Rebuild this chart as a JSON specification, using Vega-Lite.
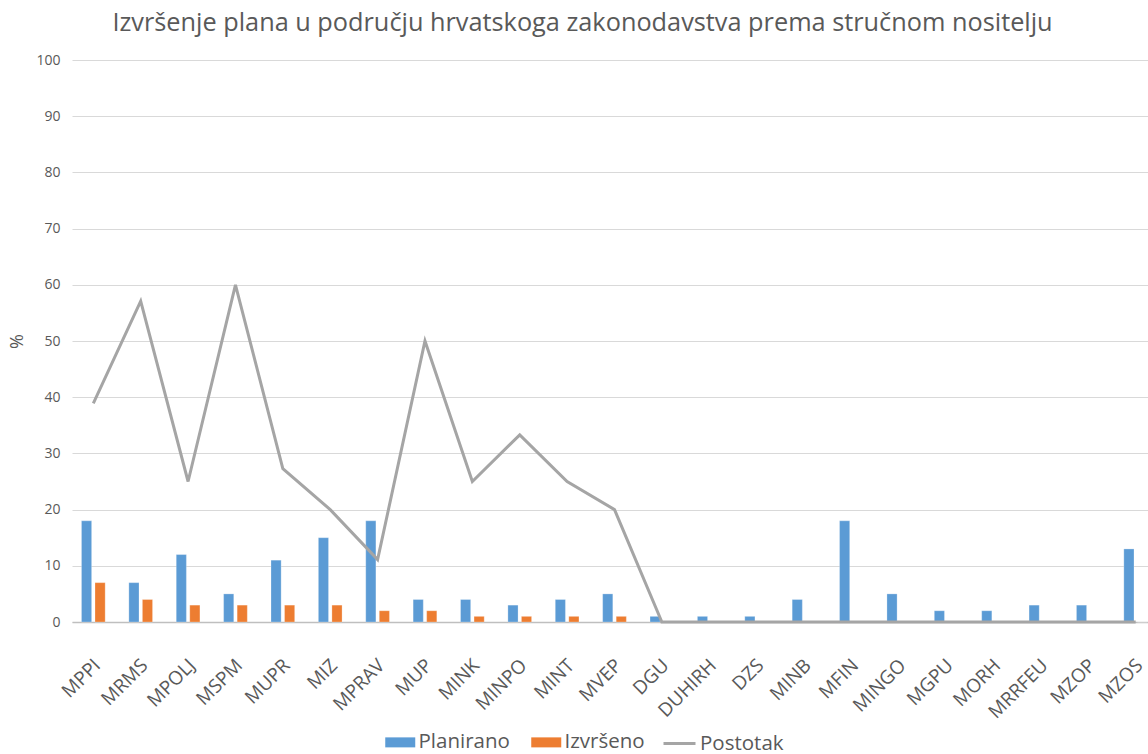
{
  "$schema": "https://vega.github.io/schema/vega-lite/v6.json",
  "autosize": {"type": "none"},
  "width": 1085,
  "height": 562,
  "padding": {"left": 72, "top": 60, "right": -9, "bottom": 132},
  "background": "white",
  "title": {
    "text": "Izvršenje plana u području hrvatskoga zakonodavstva prema stručnom nositelju",
    "font": "Open Sans",
    "fontSize": 25.3,
    "fontWeight": "normal",
    "color": "#595959",
    "anchor": "middle",
    "dx": -32,
    "offset": 17
  },
  "config": {
    "view": {"stroke": null},
    "font": "Open Sans",
    "axis": {"labelFont": "Open Sans", "titleFont": "Open Sans", "labelColor": "#595959", "titleColor": "#595959"}
  },
  "datasets": {
    "vals": [
      {"kat": "MPPI", "serija": "Planirano", "vrijednost": 18},
      {"kat": "MPPI", "serija": "Izvršeno", "vrijednost": 7},
      {"kat": "MPPI", "serija": "Postotak", "vrijednost": 38.9},
      {"kat": "MRMS", "serija": "Planirano", "vrijednost": 7},
      {"kat": "MRMS", "serija": "Izvršeno", "vrijednost": 4},
      {"kat": "MRMS", "serija": "Postotak", "vrijednost": 57.1},
      {"kat": "MPOLJ", "serija": "Planirano", "vrijednost": 12},
      {"kat": "MPOLJ", "serija": "Izvršeno", "vrijednost": 3},
      {"kat": "MPOLJ", "serija": "Postotak", "vrijednost": 25},
      {"kat": "MSPM", "serija": "Planirano", "vrijednost": 5},
      {"kat": "MSPM", "serija": "Izvršeno", "vrijednost": 3},
      {"kat": "MSPM", "serija": "Postotak", "vrijednost": 60},
      {"kat": "MUPR", "serija": "Planirano", "vrijednost": 11},
      {"kat": "MUPR", "serija": "Izvršeno", "vrijednost": 3},
      {"kat": "MUPR", "serija": "Postotak", "vrijednost": 27.3},
      {"kat": "MIZ", "serija": "Planirano", "vrijednost": 15},
      {"kat": "MIZ", "serija": "Izvršeno", "vrijednost": 3},
      {"kat": "MIZ", "serija": "Postotak", "vrijednost": 20},
      {"kat": "MPRAV", "serija": "Planirano", "vrijednost": 18},
      {"kat": "MPRAV", "serija": "Izvršeno", "vrijednost": 2},
      {"kat": "MPRAV", "serija": "Postotak", "vrijednost": 11.1},
      {"kat": "MUP", "serija": "Planirano", "vrijednost": 4},
      {"kat": "MUP", "serija": "Izvršeno", "vrijednost": 2},
      {"kat": "MUP", "serija": "Postotak", "vrijednost": 50},
      {"kat": "MINK", "serija": "Planirano", "vrijednost": 4},
      {"kat": "MINK", "serija": "Izvršeno", "vrijednost": 1},
      {"kat": "MINK", "serija": "Postotak", "vrijednost": 25},
      {"kat": "MINPO", "serija": "Planirano", "vrijednost": 3},
      {"kat": "MINPO", "serija": "Izvršeno", "vrijednost": 1},
      {"kat": "MINPO", "serija": "Postotak", "vrijednost": 33.3},
      {"kat": "MINT", "serija": "Planirano", "vrijednost": 4},
      {"kat": "MINT", "serija": "Izvršeno", "vrijednost": 1},
      {"kat": "MINT", "serija": "Postotak", "vrijednost": 25},
      {"kat": "MVEP", "serija": "Planirano", "vrijednost": 5},
      {"kat": "MVEP", "serija": "Izvršeno", "vrijednost": 1},
      {"kat": "MVEP", "serija": "Postotak", "vrijednost": 20},
      {"kat": "DGU", "serija": "Planirano", "vrijednost": 1},
      {"kat": "DGU", "serija": "Izvršeno", "vrijednost": 0},
      {"kat": "DGU", "serija": "Postotak", "vrijednost": 0},
      {"kat": "DUHIRH", "serija": "Planirano", "vrijednost": 1},
      {"kat": "DUHIRH", "serija": "Izvršeno", "vrijednost": 0},
      {"kat": "DUHIRH", "serija": "Postotak", "vrijednost": 0},
      {"kat": "DZS", "serija": "Planirano", "vrijednost": 1},
      {"kat": "DZS", "serija": "Izvršeno", "vrijednost": 0},
      {"kat": "DZS", "serija": "Postotak", "vrijednost": 0},
      {"kat": "MINB", "serija": "Planirano", "vrijednost": 4},
      {"kat": "MINB", "serija": "Izvršeno", "vrijednost": 0},
      {"kat": "MINB", "serija": "Postotak", "vrijednost": 0},
      {"kat": "MFIN", "serija": "Planirano", "vrijednost": 18},
      {"kat": "MFIN", "serija": "Izvršeno", "vrijednost": 0},
      {"kat": "MFIN", "serija": "Postotak", "vrijednost": 0},
      {"kat": "MINGO", "serija": "Planirano", "vrijednost": 5},
      {"kat": "MINGO", "serija": "Izvršeno", "vrijednost": 0},
      {"kat": "MINGO", "serija": "Postotak", "vrijednost": 0},
      {"kat": "MGPU", "serija": "Planirano", "vrijednost": 2},
      {"kat": "MGPU", "serija": "Izvršeno", "vrijednost": 0},
      {"kat": "MGPU", "serija": "Postotak", "vrijednost": 0},
      {"kat": "MORH", "serija": "Planirano", "vrijednost": 2},
      {"kat": "MORH", "serija": "Izvršeno", "vrijednost": 0},
      {"kat": "MORH", "serija": "Postotak", "vrijednost": 0},
      {"kat": "MRRFEU", "serija": "Planirano", "vrijednost": 3},
      {"kat": "MRRFEU", "serija": "Izvršeno", "vrijednost": 0},
      {"kat": "MRRFEU", "serija": "Postotak", "vrijednost": 0},
      {"kat": "MZOP", "serija": "Planirano", "vrijednost": 3},
      {"kat": "MZOP", "serija": "Izvršeno", "vrijednost": 0},
      {"kat": "MZOP", "serija": "Postotak", "vrijednost": 0},
      {"kat": "MZOS", "serija": "Planirano", "vrijednost": 13},
      {"kat": "MZOS", "serija": "Izvršeno", "vrijednost": 0},
      {"kat": "MZOS", "serija": "Postotak", "vrijednost": 0}
    ]
  },
  "data": {"name": "vals"},
  "encoding": {
    "x": {
      "field": "kat",
      "type": "nominal",
      "sort": null,
      "title": null,
      "scale": {"paddingInner": 0.5},
      "axis": {
        "labelAngle": -45,
        "labelFontSize": 19,
        "labelPadding": 40,
        "labelOffset": 4,
        "labelBaseline": "middle",
        "labelAlign": "right",
        "ticks": false,
        "domainColor": "#BFBFBF",
        "domainWidth": 1.5,
        "grid": false
      }
    },
    "y": {
      "field": "vrijednost",
      "type": "quantitative",
      "title": "%",
      "scale": {"domain": [0, 100], "nice": false},
      "axis": {
        "values": [0, 10, 20, 30, 40, 50, 60, 70, 80, 90, 100],
        "labelFontSize": 14,
        "titleFontSize": 18,
        "titleFontWeight": "normal",
        "labelPadding": 12,
        "titlePadding": 9,
        "ticks": false,
        "domain": false,
        "gridColor": "#D9D9D9",
        "gridWidth": 1
      }
    }
  },
  "layer": [
    {
      "transform": [{"filter": "datum.serija !== 'Postotak'"}],
      "mark": {"type": "bar", "stroke": "white", "strokeOpacity": 0.5, "strokeWidth": 0.5},
      "encoding": {
        "xOffset": {"field": "serija", "type": "nominal", "sort": ["Planirano", "Izvršeno"], "scale": {"paddingInner": 0.25}},
        "color": {
          "field": "serija",
          "type": "nominal",
          "scale": {"domain": ["Planirano", "Izvršeno"], "range": ["#5B9BD5", "#ED7D31"]},
          "legend": {
            "title": null,
            "orient": "none",
            "legendX": 318,
            "legendY": 672,
            "direction": "horizontal",
            "symbolType": "M-1.5,-0.5L1.5,-0.5L1.5,0.5L-1.5,0.5Z",
            "symbolSize": 400,
            "symbolStrokeWidth": 0,
            "labelFontSize": 20.5,
            "labelColor": "#595959",
            "labelFont": "Open Sans",
            "labelOffset": 8,
            "columnPadding": 21
          }
        }
      }
    },
    {
      "transform": [{"filter": "datum.serija === 'Postotak'"}],
      "mark": {"type": "line", "strokeWidth": 3, "strokeJoin": "miter"},
      "encoding": {
        "stroke": {
          "field": "serija",
          "type": "nominal",
          "scale": {"domain": ["Postotak"], "range": ["#A5A5A5"]},
          "legend": {
            "title": null,
            "orient": "none",
            "legendX": 596,
            "legendY": 672,
            "symbolType": "M-1.6,0L1.6,0",
            "symbolSize": 400,
            "symbolStrokeWidth": 3,
            "labelFontSize": 20.5,
            "labelColor": "#595959",
            "labelFont": "Open Sans",
            "labelOffset": 9
          }
        }
      }
    }
  ]
}
